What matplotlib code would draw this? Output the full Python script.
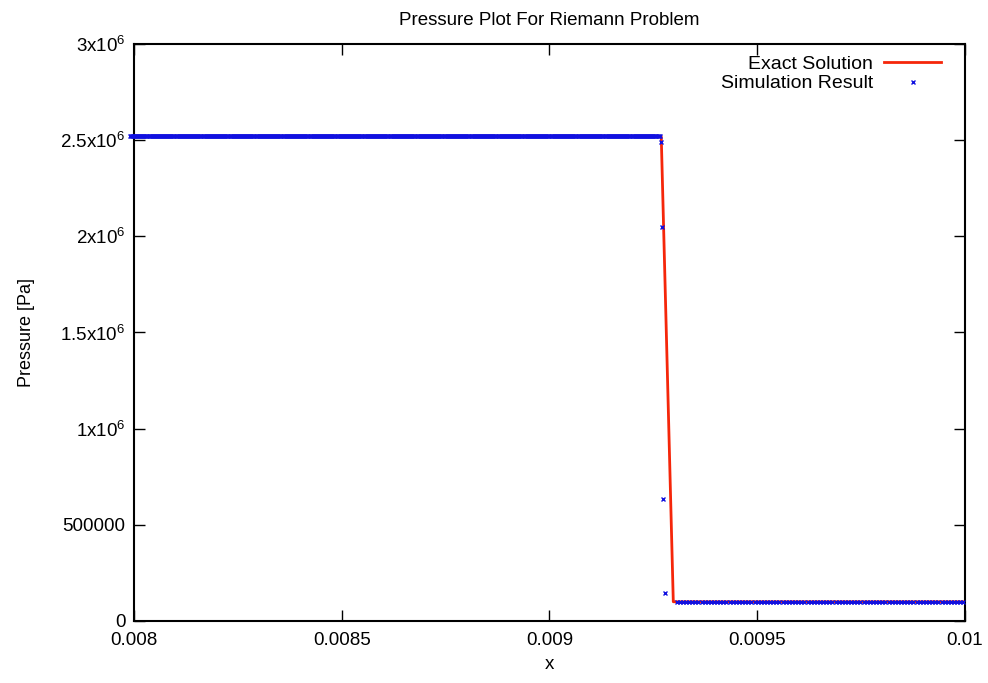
import numpy as np
import matplotlib
matplotlib.use("Agg")
import matplotlib.pyplot as plt
from matplotlib.ticker import FixedLocator, FixedFormatter

plt.rcParams['font.family'] = ['Liberation Sans', 'DejaVu Sans']
plt.rcParams['mathtext.fontset'] = 'custom'
plt.rcParams['mathtext.rm'] = 'Liberation Sans'

# exact solution (x, p)
exact_x = [0.008, 0.009269, 0.009298, 0.010]
exact_p = [2.52e6, 2.52e6, 1.0e5, 1.0e5]

# simulation: two plateaus plus the points inside the jump
p_left = 2.52e6
p_right = 1.0e5
x_left = np.arange(0.00799, 0.009266, 2.5e-6)
x_right = np.arange(0.009306, 0.0100001, 7.5e-6)
jump_x = [0.009268, 0.009271, 0.009274, 0.009279]
jump_p = [2.49e6, 2.05e6, 6.35e5, 1.45e5]

sim_x = np.concatenate([x_left, jump_x, x_right])
sim_p = np.concatenate([np.full(len(x_left), p_left), jump_p,
                        np.full(len(x_right), p_right)])

xticks = [0.008, 0.0085, 0.009, 0.0095, 0.01]
xlabels = ['0.008', '0.0085', '0.009', '0.0095', '0.01']
yticks = [0, 5e5, 1e6, 1.5e6, 2e6, 2.5e6, 3e6]
ylabels = ['0', '500000', r'$\mathregular{1x10^6}$', r'$\mathregular{1.5x10^6}$',
           r'$\mathregular{2x10^6}$', r'$\mathregular{2.5x10^6}$', r'$\mathregular{3x10^6}$']

fig = plt.figure(figsize=(9.88, 6.83), dpi=100)
ax = fig.add_axes([0.1356, 0.0908, 0.9767 - 0.1356, 0.9356 - 0.0908])

ax.plot(exact_x, exact_p, color='#f5260a', lw=2.0, label='Exact Solution', zorder=2)
ax.plot(sim_x, sim_p, ls='none', marker='x', ms=3.2, mew=1.0, color='#1010e0',
        label='Simulation Result', zorder=3, clip_on=False)

ax.set_xlim(0.008, 0.01)
ax.set_ylim(0, 3e6)
ax.xaxis.set_major_locator(FixedLocator(xticks))
ax.xaxis.set_major_formatter(FixedFormatter(xlabels))
ax.yaxis.set_major_locator(FixedLocator(yticks))
ax.yaxis.set_major_formatter(FixedFormatter(ylabels))
ax.tick_params(direction='in', length=8, width=1, top=True, right=True,
               labelsize=13.5, pad=6)
ax.tick_params(axis='x', pad=8)
for s in ax.spines.values():
    s.set_linewidth(1.5)

ax.set_title('Pressure Plot For Riemann Problem', fontsize=13.5, pad=14)
ax.set_xlabel('x', fontsize=13.5, labelpad=5)
ax.set_ylabel('Pressure [Pa]', fontsize=13, labelpad=18)

leg = ax.legend(loc='upper right', frameon=False, markerfirst=False, fontsize=14,
                handlelength=2.9, handletextpad=0.6, borderaxespad=0.2,
                labelspacing=0.08, bbox_to_anchor=(0.985, 1.0))
for t in leg.get_texts():
    t.set_ha('right')

fig.savefig('out.png', dpi=100)
